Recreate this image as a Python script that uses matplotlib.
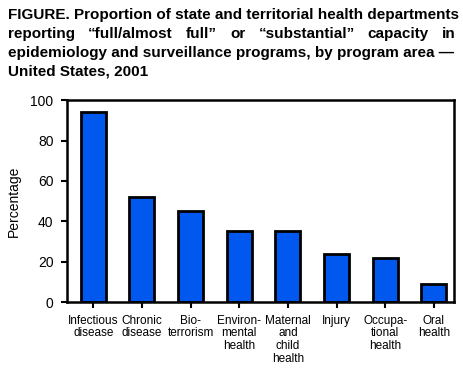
import matplotlib
matplotlib.use("Agg")
import matplotlib.pyplot as plt
import numpy as np

# data
areas = ["Infectious\ndisease", "Chronic\ndisease", "Bio-\nterrorism",
         "Environ-\nmental\nhealth", "Maternal\nand\nchild\nhealth", "Injury",
         "Occupa-\ntional\nhealth", "Oral\nhealth"]
values = [94, 52, 45, 35, 35, 24, 22, 9]
yticks = [0, 20, 40, 60, 80, 100]

title_lines = [
    "FIGURE. Proportion of state and territorial health departments",
    "reporting \u201cfull/almost full\u201d or \u201csubstantial\u201d capacity in",
    "epidemiology and surveillance programs, by program area \u2014",
    "United States, 2001",
]

plt.rcParams['font.family'] = ['Liberation Sans', 'DejaVu Sans']

fig = plt.figure(figsize=(4.64, 3.78), dpi=100)
ax = fig.add_axes([0.145, 0.201, 0.834, 0.534])

x = np.arange(len(values))
ax.bar(x, values, width=0.515, color='#0158EE', edgecolor='black', linewidth=2)

ax.set_xlim(-0.535, 7.42)
ax.set_ylim(0, 100)
ax.set_yticks(yticks)
ax.set_xticks(x)
ax.set_xticklabels(areas, fontsize=8.5, linespacing=1.08)
ax.tick_params(axis='x', direction='out', length=4, width=1.5, pad=5)
ax.tick_params(axis='y', direction='out', length=4, width=1.5, labelsize=10, pad=6)
for sp in ax.spines.values():
    sp.set_linewidth(1.8)
ax.set_ylabel("Percentage", fontsize=10)
ax.yaxis.set_label_coords(-0.121, 0.5)

# title: fit first line to the width, justify the second like the original
left, right = 8 / 464, 456 / 464
baselines = [19, 38, 56.5, 75]
fig.canvas.draw()
renderer = fig.canvas.get_renderer()

def width_of(s, size):
    t = fig.text(0, 0, s, fontsize=size, fontweight='bold')
    w = t.get_window_extent(renderer).width / fig.bbox.width
    t.remove()
    return w

tsize = 12 * (right - left) / width_of(title_lines[0], 12)

for i, line in enumerate(title_lines):
    yy = 1 - baselines[i] / 378
    if i != 1:
        fig.text(left, yy, line, fontsize=tsize, fontweight='bold', va='baseline')
        continue
    words = line.split(" ")
    widths = [width_of(w, tsize) for w in words]
    gap = (right - left - sum(widths)) / (len(words) - 1)
    pos = left
    for w, wd in zip(words, widths):
        fig.text(pos, yy, w, fontsize=tsize, fontweight='bold', va='baseline')
        pos += wd + gap

fig.savefig("out.png", dpi=100)
